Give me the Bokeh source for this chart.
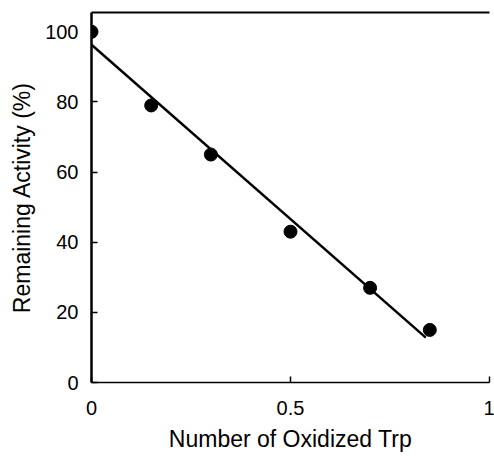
from bokeh.plotting import figure
from bokeh.models import Range1d, LinearAxis, FixedTicker
from bokeh.embed import file_html
from bokeh.resources import INLINE

# data
oxidized_trp = [0.0, 0.15, 0.30, 0.50, 0.70, 0.85]
remaining_activity = [100, 79, 65, 43, 27, 15]
fit_x = [0.0, 0.84]
fit_y = [96.3, 12.8]
x_ticks = [0, 0.5, 1]
y_ticks = [0, 20, 40, 60, 80, 100]

FONT = "Liberation Sans"

p = figure(frame_width=398, frame_height=370,
           min_border_left=91, min_border_right=5,
           min_border_top=12, min_border_bottom=74,
           x_range=Range1d(0, 1), y_range=Range1d(0, 105.5),
           output_backend="svg", toolbar_location=None,
           background_fill_color="white", border_fill_color="white")
p.outline_line_color = None
p.grid.visible = False

p.line(fit_x, fit_y, line_color="black", line_width=2.5)
p.scatter(oxidized_trp, remaining_activity, size=13, color="black")

xa = p.xaxis[0]
xa.ticker = FixedTicker(ticks=x_ticks)
xa.major_label_overrides = {0: "0", 0.5: "0.5", 1: "1"}
xa.axis_label = "Number of Oxidized Trp"
xa.axis_line_width = 1.5

ya = p.yaxis[0]
ya.ticker = FixedTicker(ticks=y_ticks)
ya.axis_label = "Remaining Activity (%)"
ya.axis_line_width = 2.5

for ax in (xa, ya):
    ax.minor_tick_line_color = None
    ax.major_tick_in = 6
    ax.major_tick_out = 0
    ax.major_tick_line_width = 1.5
    ax.axis_line_color = "black"
    ax.major_tick_line_color = "black"
    ax.major_label_text_font = FONT
    ax.major_label_text_font_size = "20px"
    ax.major_label_text_color = "black"
    ax.axis_label_text_font = FONT
    ax.axis_label_text_font_size = "23px"
    ax.axis_label_text_font_style = "normal"
    ax.axis_label_text_color = "black"

xa.major_label_standoff = 18
xa.axis_label_standoff = 8
ya.major_label_standoff = 13
ya.axis_label_standoff = 7

top = LinearAxis(ticker=FixedTicker(ticks=[]), major_label_text_font_size="0px",
                 major_tick_line_color=None, minor_tick_line_color=None,
                 axis_line_width=2, axis_line_color="black")
p.add_layout(top, "above")

open("out.html", "w").write(file_html(p, INLINE))
